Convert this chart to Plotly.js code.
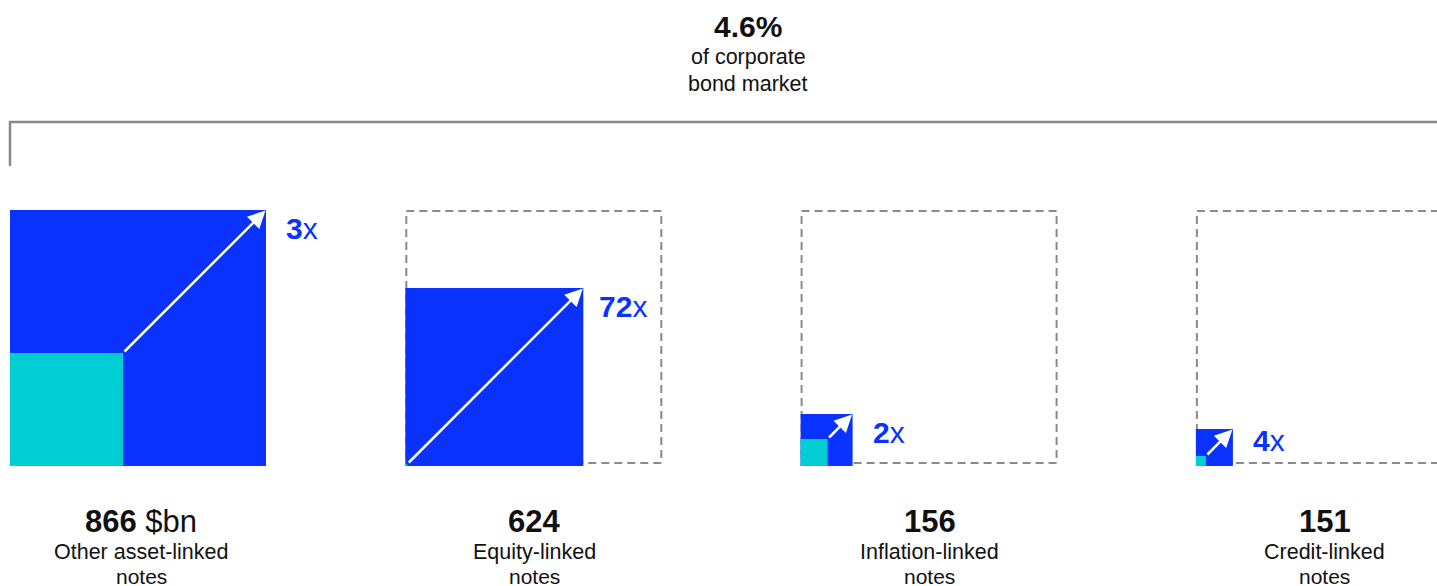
<!DOCTYPE html>
<html>
<head>
<meta charset="utf-8">
<script src="https://cdn.plot.ly/plotly-3.0.1.min.js"></script>
<style>
html,body{margin:0;padding:0;background:#fff;}
#chart{width:1437px;height:586px;}
</style>
</head>
<body>
<div id="chart"></div>
<script>
// ---- data ----
const categoryNames = ['Other asset-linked', 'Equity-linked', 'Inflation-linked', 'Credit-linked'];
const categorySuffix = ['notes', 'notes', 'notes', 'notes'];
const valuesBn = [866, 624, 156, 151];
const growthMultiple = [3, 72, 2, 4];
// side of the current-size square and of the earlier-size square (chart units)
const sideNow = [256, 178, 52, 37];
const sideBefore = [113, 2, 27, 10];
const shareHeadline = '4.6%';
const shareLines = ['of corporate', 'bond market'];
const unitLabel = '$bn';

// ---- styling ----
const BLUE = '#0A32FF';
const CYAN = '#00CED2';
const GREY = '#8A8A8A';
const FONT = 'Liberation Sans, Arial, Helvetica, sans-serif';

const W = 1437, H = 586;
const colStart = 10, colStep = 395.3, base = 466;
const refSide = sideNow[0];

const shapes = [];
const annotations = [];

// bracket
shapes.push({
  type: 'path', xref: 'x', yref: 'y',
  path: `M ${colStart} 166 L ${colStart} 122 L ${W + 5} 122`,
  line: {color: GREY, width: 2.5}
});

annotations.push({x: 748, y: 26, xref: 'x', yref: 'y', text: '<b>' + shareHeadline + '</b>',
  showarrow: false, font: {family: FONT, size: 30, color: '#111'}, xanchor: 'center', yanchor: 'middle'});
shareLines.forEach((t, k) => {
  annotations.push({x: 748, y: 57 + k * 27, xref: 'x', yref: 'y', text: t,
    showarrow: false, font: {family: FONT, size: 21.5, color: '#111'}, xanchor: 'center', yanchor: 'middle'});
});

valuesBn.forEach((v, i) => {
  const x0 = colStart + i * colStep;
  const cx = x0 + refSide / 2 + (i === 0 ? 3 : 1);
  // dashed reference outline (largest market size) for the others
  if (i > 0) {
    shapes.push({type: 'rect', xref: 'x', yref: 'y', x0: x0 + 1, x1: x0 + refSide, y0: 211, y1: 463,
      line: {color: GREY, width: 2, dash: '8px,5px'}, fillcolor: 'rgba(0,0,0,0)', layer: 'below'});
  }
  const s = sideNow[i], c = sideBefore[i];
  shapes.push({type: 'rect', xref: 'x', yref: 'y', x0: x0, x1: x0 + s, y0: base - s, y1: base,
    line: {width: 0}, fillcolor: BLUE, layer: 'above'});
  shapes.push({type: 'rect', xref: 'x', yref: 'y', x0: x0, x1: x0 + c, y0: base - c, y1: base,
    line: {width: 0}, fillcolor: CYAN, layer: 'above'});
  // growth arrow
  annotations.push({x: x0 + s - 0.5, y: base - s + 0.5, ax: x0 + c, ay: base - c,
    xref: 'x', yref: 'y', axref: 'x', ayref: 'y', text: '', showarrow: true,
    arrowcolor: '#ffffff', arrowwidth: 2.5, arrowhead: 2, arrowsize: 1.4, standoff: 0, startstandoff: 0});
  // growth label
  annotations.push({x: x0 + s + (i === 1 ? 14 : 18), y: Math.min(base - s + 18, 440), xref: 'x', yref: 'y',
    text: '<b>' + growthMultiple[i] + '</b>x', showarrow: false,
    font: {family: FONT, size: 30, color: BLUE}, xanchor: 'left', yanchor: 'middle'});
  // value label
  annotations.push({x: cx, y: 521, xref: 'x', yref: 'y',
    text: '<b>' + v + '</b>' + (i === 0 ? ' ' + unitLabel : ''), showarrow: false,
    font: {family: FONT, size: 31, color: '#111'}, xanchor: 'center', yanchor: 'middle'});
  annotations.push({x: cx, y: 552, xref: 'x', yref: 'y', text: categoryNames[i], showarrow: false,
    font: {family: FONT, size: 21.5, color: '#111'}, xanchor: 'center', yanchor: 'middle'});
  annotations.push({x: cx, y: 576, xref: 'x', yref: 'y', text: categorySuffix[i], showarrow: false,
    height: 16, font: {family: FONT, size: 21, color: '#111'}, xanchor: 'center', yanchor: 'middle'});
});

const layout = {
  width: W, height: H,
  margin: {l: 0, r: 0, t: 0, b: 0, pad: 0},
  paper_bgcolor: '#fff', plot_bgcolor: '#fff',
  showlegend: false,
  xaxis: {range: [0, W], visible: false, fixedrange: true},
  yaxis: {range: [H, 0], visible: false, fixedrange: true},
  shapes: shapes,
  annotations: annotations
};

Plotly.newPlot('chart', [{x: [], y: [], type: 'scatter', hoverinfo: 'skip'}], layout,
  {displayModeBar: false, staticPlot: true});
</script>
</body>
</html>
